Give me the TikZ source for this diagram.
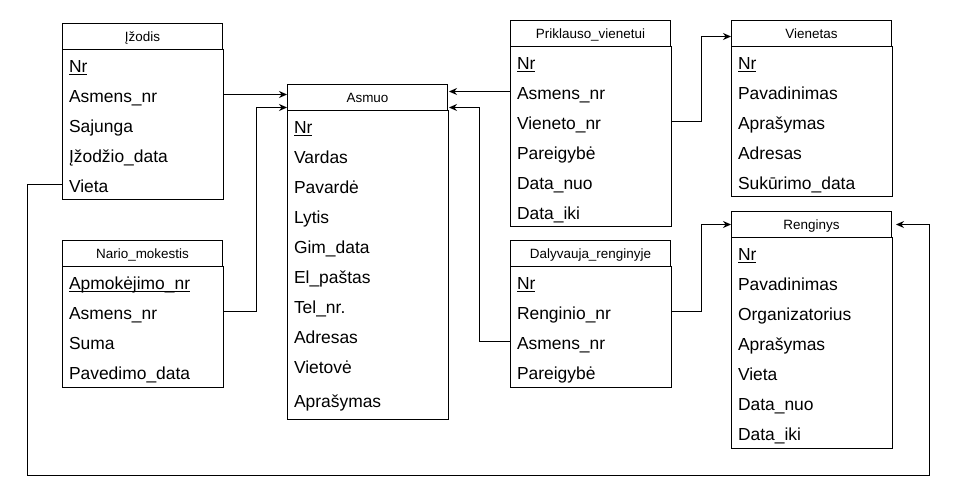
\documentclass[tikz,border=0pt]{standalone}
\usepackage{fontspec}
\setmainfont{Liberation Sans}
\usetikzlibrary{arrows.meta}

% primary key field
\newcommand\pkey[1]{\underline{\smash{#1}}}

\tikzset{
  tblhead/.style={draw, anchor=north west, minimum width=160bp, minimum height=26bp,
    inner sep=0pt, text height=10bp, text depth=0pt, font=\fontsize{13.5}{16}\selectfont},
  field/.style={anchor=north west, minimum height=30bp, text width=147bp, inner xsep=6.5bp,
    inner ysep=0pt, align=left, text height=16bp, text depth=0pt, font=\fontsize{17.5}{20}\selectfont},
  link/.style={->},
}

\begin{document}
\begin{tikzpicture}[x=1bp, y=-1bp, >={Stealth[length=8bp,width=7bp]}, line width=1bp]
  \useasboundingbox (0,0) rectangle (958,504);

  % Izodis
  \node[tblhead] (iz) at (62,23) {Įžodis};
  \foreach \f [count=\i] in {\pkey{Nr}, Asmens\_nr, Sajunga, Įžodžio\_data, Vieta}
    \node[field] (iz-\i) at (62,{49+30*(\i-1)}) {\f};
  \draw (iz.south west) rectangle (iz-5.south east);

  % Nario mokestis
  \node[tblhead] (nm) at (62,240) {Nario\_mokestis};
  \foreach \f [count=\i] in {\pkey{Apmokėjimo\_nr}, Asmens\_nr, Suma, Pavedimo\_data}
    \node[field] (nm-\i) at (62,{266+30*(\i-1)}) {\f};
  \draw (nm.south west) rectangle (nm-4.south east);

  % Asmuo (last row is taller)
  \node[tblhead] (asmuo) at (287,84) {Asmuo};
  \foreach \f [count=\i] in {\pkey{Nr}, Vardas, Pavardė, Lytis, Gim\_data, El\_paštas, Tel\_nr., Adresas, Vietovė}
    \node[field] (as-\i) at (287,{110+30*(\i-1)}) {\f};
  \node[field, minimum height=38bp] (as-10) at (287,380) {Aprašymas};
  \draw (asmuo.south west) rectangle (as-10.south east);

  % Priklauso vienetui
  \node[tblhead] (pv) at (510,20) {Priklauso\_vienetui};
  \foreach \f [count=\i] in {\pkey{Nr}, Asmens\_nr, Vieneto\_nr, Pareigybė, Data\_nuo, Data\_iki}
    \node[field] (pv-\i) at (510,{46+30*(\i-1)}) {\f};
  \draw (pv.south west) rectangle (pv-6.south east);

  % Dalyvauja renginyje
  \node[tblhead] (dr) at (510,240) {Dalyvauja\_renginyje};
  \foreach \f [count=\i] in {\pkey{Nr}, Renginio\_nr, Asmens\_nr, Pareigybė}
    \node[field] (dr-\i) at (510,{266+30*(\i-1)}) {\f};
  \draw (dr.south west) rectangle (dr-4.south east);

  % Vienetas
  \node[tblhead] (vn) at (731,20) {Vienetas};
  \foreach \f [count=\i] in {\pkey{Nr}, Pavadinimas, Aprašymas, Adresas, Sukūrimo\_data}
    \node[field] (vn-\i) at (731,{46+30*(\i-1)}) {\f};
  \draw (vn.south west) rectangle (vn-5.south east);

  % Renginys
  \node[tblhead] (rg) at (731,211) {Renginys};
  \foreach \f [count=\i] in {\pkey{Nr}, Pavadinimas, Organizatorius, Aprašymas, Vieta, Data\_nuo, Data\_iki}
    \node[field] (rg-\i) at (731,{237+30*(\i-1)}) {\f};
  \draw (rg.south west) rectangle (rg-7.south east);

  % foreign keys
  \draw[link] (iz-2.east) -- (iz-2.east -| asmuo.west);
  \draw[link] (nm-2.east) -- ++(33,0) |- ([yshift=-10bp]asmuo.west);
  \draw[link, shorten >=1bp] (pv-2.west) -- (pv-2.west -| asmuo.east);
  \draw[link, shorten >=1bp] (dr-3.west) -- ++(-31,0) |- ([yshift=-10bp]asmuo.east);
  \draw[link] (pv-3.east) -- ++(30,0) |- ([yshift=-3bp]vn.west);
  \draw[link] (dr-2.east) -- ++(30,0) |- (rg.west);
  \coordinate (loop) at (929,475);
  \draw[link, shorten >=4bp] (iz-5.west) -- ++(-35,0) |- (loop) |- (rg.east);
\end{tikzpicture}
\end{document}
